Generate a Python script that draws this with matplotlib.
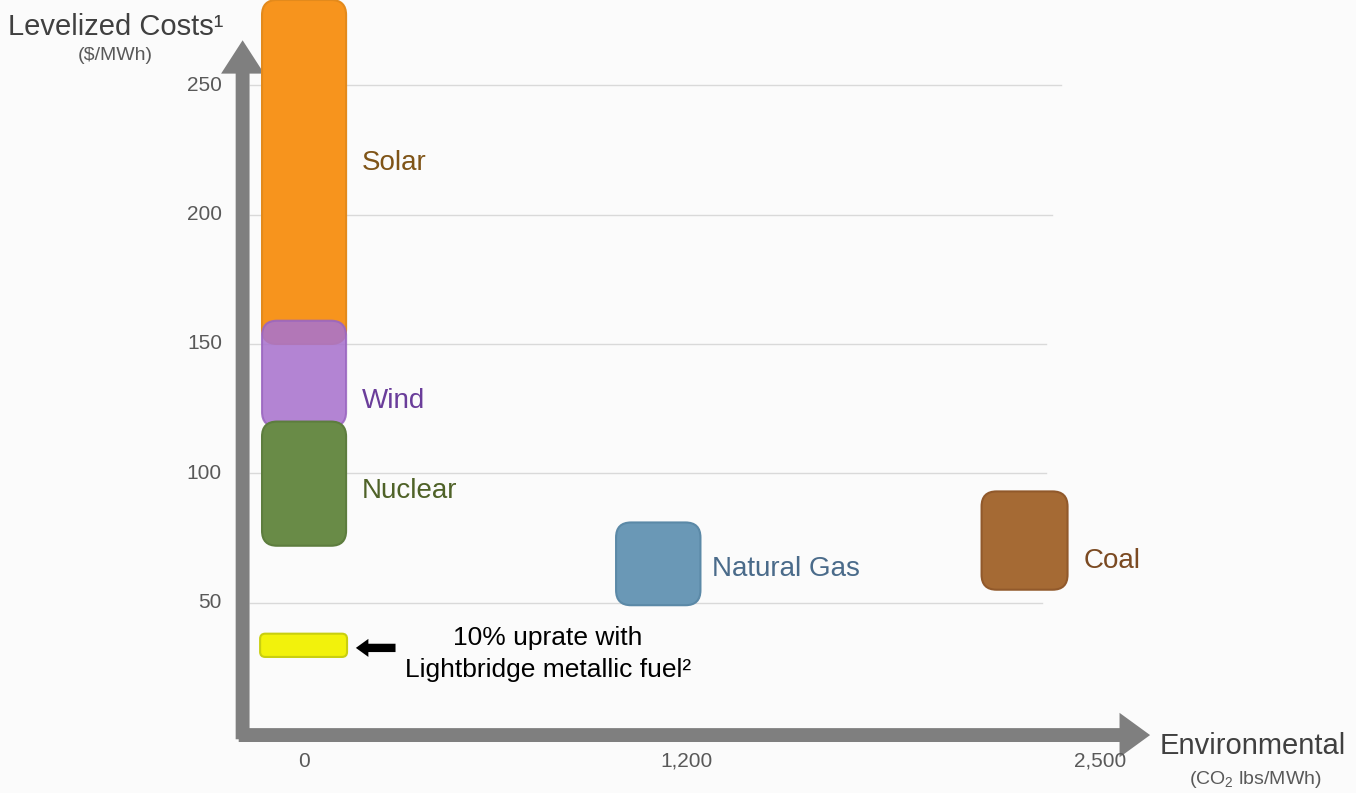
import matplotlib
matplotlib.use("Agg")
import matplotlib.pyplot as plt
from matplotlib.patches import FancyBboxPatch, FancyArrowPatch

plt.rcParams['font.family'] = ['Liberation Sans', 'DejaVu Sans']
plt.rcParams['mathtext.fontset'] = 'custom'
plt.rcParams['mathtext.rm'] = 'Liberation Sans'

# data: CO2 (lbs/MWh) range and levelized cost ($/MWh) range
sources = ["Solar", "Wind", "Nuclear", "Natural Gas", "Coal", "Lightbridge"]
co2_low = [-132, -132, -132, 980, 2128, -138]
co2_high = [132, 132, 132, 1245, 2398, 135]
cost_low = [150, 118, 72, 49, 55, 29]
cost_high = [283, 159, 120, 81, 93, 38]
fill_colors = ["#f7941d", "#a974ce", "#698b47", "#6a98b6", "#a56a34", "#f2f20c"]
edge_colors = ["#e38a1c", "#9a66c0", "#5d7d3e", "#5b89a7", "#91592b", "#c9cf10"]
alphas = [1.0, 0.88, 1.0, 1.0, 1.0, 1.0]

label_names = ["Solar", "Wind", "Nuclear", "Natural Gas", "Coal"]
label_x = [182, 182, 182, 1280, 2447]
label_y = [220, 128, 93, 63, 66]
label_colors = ["#7f5417", "#6a3d9a", "#4f6228", "#4a6b8a", "#7b4a22"]

y_ticks = [50, 100, 150, 200, 250]
grid_end = [2318, 2330, 2330, 2350, 2378]
x_ticks = [0, 1200, 2500]
x_tick_labels = ["0", "1,200", "2,500"]


def main():
    fig = plt.figure(figsize=(13.56, 7.93), dpi=100)
    fig.patch.set_facecolor("#fbfbfb")
    ax = fig.add_axes([0, 0, 1, 1])
    ax.set_facecolor("#fbfbfb")
    ax.set_xlim(-955, 3304)
    ax.set_ylim(-23.6, 283)
    ax.axis("off")

    # gridlines
    for y, xe in zip(y_ticks, grid_end):
        ax.plot([-170, xe], [y, y], color="#d9d9d9", lw=1, zorder=1)
        ax.text(-258, y, str(y), ha="right", va="center", fontsize=15, color="#595959")

    for x, lab in zip(x_ticks, x_tick_labels):
        ax.text(x, -11.3, lab, ha="center", va="center", fontsize=15, color="#595959")

    # boxes
    asp = 0.123
    for i in range(len(sources)):
        r = 16 if sources[i] == "Lightbridge" else 47
        box = FancyBboxPatch((co2_low[i], cost_low[i]),
                             co2_high[i] - co2_low[i], cost_high[i] - cost_low[i],
                             boxstyle=f"round,pad=0,rounding_size={r}",
                             mutation_aspect=asp, facecolor=fill_colors[i],
                             edgecolor=edge_colors[i], lw=1.5, alpha=alphas[i],
                             zorder=3 + i)
        ax.add_patch(box)

    for name, x, y, c in zip(label_names, label_x, label_y, label_colors):
        ax.text(x, y, name, ha="left", va="center", fontsize=20, color=c)

    # axes arrows
    ax.add_patch(FancyArrowPatch((-193, -3.9), (-193, 268.5),
                                 arrowstyle="simple,head_width=31,head_length=24,tail_width=10",
                                 mutation_scale=1, color="#7f7f7f", lw=0, zorder=2))
    ax.add_patch(FancyArrowPatch((-214, -1.2), (2666, -1.2),
                                 arrowstyle="simple,head_width=32,head_length=22,tail_width=10",
                                 mutation_scale=1, color="#7f7f7f", lw=0, zorder=2))

    # pointer to Lightbridge bar
    ax.add_patch(FancyArrowPatch((296, 32.5), (154, 32.5),
                                 arrowstyle="simple,head_width=13,head_length=9,tail_width=6",
                                 mutation_scale=1, color="black", lw=0, zorder=10))
    ax.text(766, 36.3, "10% uprate with", ha="center", va="center", fontsize=19, color="black")
    ax.text(766, 24, "Lightbridge metallic fuel²", ha="center", va="center",
            fontsize=19, color="black")

    # axis titles
    ax.text(-930, 272.5, "Levelized Costs¹", ha="left", va="center", fontsize=21, color="#404040")
    ax.text(-594, 261.5, "(\\$/MWh)", ha="center", va="center", fontsize=14, color="#595959")
    ax.text(2688, -5.4, "Environmental", ha="left", va="center", fontsize=21, color="#404040")
    ax.text(2987, -18.5, "(CO$_{\\mathrm{2}}$ lbs/MWh)", ha="center", va="center",
            fontsize=14, color="#595959")

    fig.savefig("out.png", dpi=100, facecolor=fig.get_facecolor())


if __name__ == "__main__":
    main()
